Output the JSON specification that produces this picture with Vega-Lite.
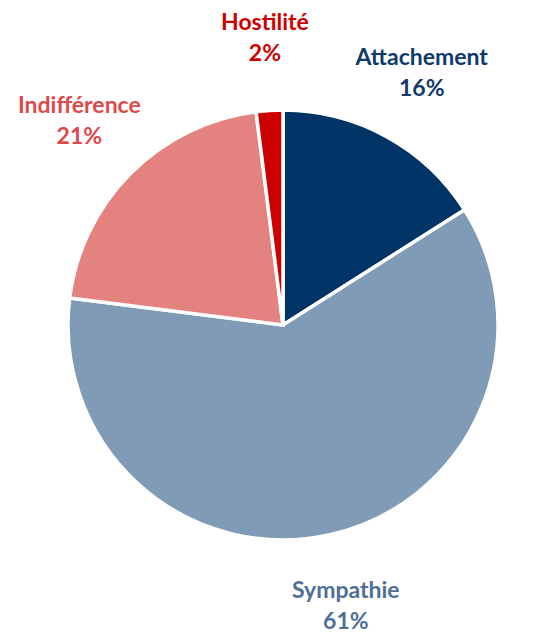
{
  "$schema": "https://vega.github.io/schema/vega-lite/v6.json",
  "width": 533,
  "height": 634,
  "autosize": {"type": "fit", "contains": "padding"},
  "padding": {"left": 33, "right": 0, "top": 16, "bottom": 0},
  "background": "white",
  "view": {"stroke": null},
  "data": {
    "values": [
      {"cat": "Attachement", "pct": "16%", "value": 16, "ord": 1},
      {"cat": "Sympathie", "pct": "61%", "value": 61, "ord": 2},
      {"cat": "Indifférence", "pct": "21%", "value": 21, "ord": 3},
      {"cat": "Hostilité", "pct": "2%", "value": 2, "ord": 4}
    ]
  },
  "encoding": {
    "theta": {"field": "value", "type": "quantitative", "stack": true},
    "order": {"field": "ord", "type": "quantitative"}
  },
  "layer": [
    {
      "mark": {"type": "arc", "outerRadius": 215, "stroke": "white", "strokeWidth": 3.5},
      "encoding": {
        "color": {
          "field": "cat",
          "type": "nominal",
          "scale": {
            "domain": ["Attachement", "Sympathie", "Indifférence", "Hostilité"],
            "range": ["#003366", "#7f9bb5", "#e4827f", "#cc0000"]
          },
          "legend": null
        }
      }
    },
    {
      "mark": {"type": "text", "radius": 288, "dy": -15, "font": "Lato", "fontWeight": "bold", "fontSize": 23},
      "encoding": {
        "text": {"field": "cat", "type": "nominal"},
        "color": {
          "field": "cat",
          "type": "nominal",
          "scale": {
            "domain": ["Attachement", "Sympathie", "Indifférence", "Hostilité"],
            "range": ["#0f3a6b", "#4f6f96", "#dc4a4a", "#cc0000"]
          },
          "legend": null
        }
      }
    },
    {
      "mark": {"type": "text", "radius": 288, "dy": 16, "font": "Lato", "fontWeight": "bold", "fontSize": 23},
      "encoding": {
        "text": {"field": "pct", "type": "nominal"},
        "color": {
          "field": "cat",
          "type": "nominal",
          "scale": {
            "domain": ["Attachement", "Sympathie", "Indifférence", "Hostilité"],
            "range": ["#0f3a6b", "#4f6f96", "#dc4a4a", "#cc0000"]
          },
          "legend": null
        }
      }
    }
  ],
  "resolve": {"scale": {"color": "independent"}}
}
